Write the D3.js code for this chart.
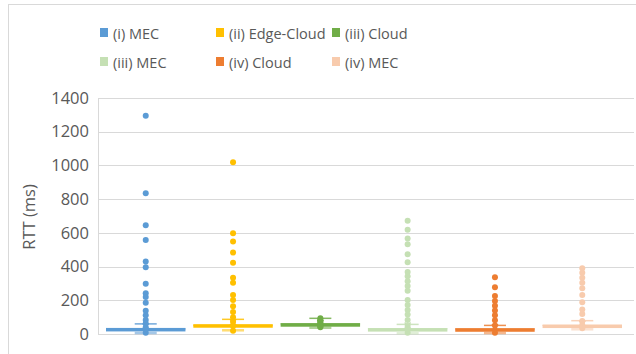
<!DOCTYPE html>
<html><head><meta charset="utf-8">
<script src="https://cdn.jsdelivr.net/npm/d3@7"></script>
<style>html,body{margin:0;padding:0;background:#fff;}svg{display:block;font-family:"Open Sans",sans-serif;}</style>
</head><body>
<script>
const seriesNames = ["(i) MEC","(ii) Edge-Cloud","(iii) Cloud","(iii) MEC","(iv) Cloud","(iv) MEC"];
const seriesColors = ["#5B9BD5","#FFC000","#70AD47","#C5E0B4","#ED7D31","#F8CBAD"];
const yTicks = [0,200,400,600,800,1000,1200,1400];
// box statistics per series
const q1Values     = [26, 44, 56, 27, 26, 47];
const medianValues = [30, 52, 60, 31, 30, 51];
const q3Values     = [36, 58, 64, 35, 34, 56];
const whiskerLow   = [6, 22, 37, 4, 6, 28];
const whiskerHigh  = [60, 87, 93, 57, 51, 79];
const meanValues   = [45, 70, 65, 50, 40, 60];
// individual points (inner points and outliers)
const pointsMEC1   = [1295, 835, 645, 558, 430, 396, 298, 241, 220, 186, 138, 111, 83, 63, 40, 30, 8];
const pointsEdge2  = [1019, 598, 548, 483, 423, 334, 304, 231, 202, 164, 131, 99, 73, 47, 20];
const pointsCloud3 = [93, 85, 75, 68, 60, 52, 45, 40];
const pointsMEC3   = [672, 619, 566, 532, 473, 425, 368, 342, 313, 285, 257, 202, 172, 142, 115, 83, 47, 8];
const pointsCloud4 = [336, 277, 225, 196, 168, 140, 111, 81, 50, 8];
const pointsMEC4   = [390, 364, 334, 304, 271, 231, 188, 146, 119, 77, 53, 34];
const pointSets = [pointsMEC1, pointsEdge2, pointsCloud3, pointsMEC3, pointsCloud4, pointsMEC4];

const W = 636, H = 354;
const svg = d3.select("body").append("svg").attr("width", W).attr("height", H);

// chart border
svg.append("rect").attr("x", 8.5).attr("y", 4.5).attr("width", 640).attr("height", 360)
  .attr("fill", "none").attr("stroke", "#D9D9D9").attr("stroke-width", 1);

const plotLeft = 98, plotRight = 634, plotTop = 98, plotBottom = 334;
const y = d3.scaleLinear().domain([0, 1400]).range([plotBottom, plotTop]);
const x = d3.scaleBand().domain(seriesNames).range([106, 622]).paddingInner(0.09).paddingOuter(0);

// gridlines
svg.append("g").selectAll("line").data(yTicks).join("line")
  .attr("x1", plotLeft).attr("x2", plotRight)
  .attr("y1", d => Math.round(y(d)) + 0.5).attr("y2", d => Math.round(y(d)) + 0.5)
  .attr("stroke", "#D9D9D9").attr("stroke-width", 1);
// left axis line
svg.append("line").attr("x1", plotLeft + 0.5).attr("x2", plotLeft + 0.5)
  .attr("y1", y(1400)).attr("y2", y(0)).attr("stroke", "#D9D9D9");

// y axis labels
const yAxis = d3.axisLeft(y).tickValues(yTicks).tickSize(0).tickPadding(9).tickFormat(d3.format("d"));
const ga = svg.append("g").attr("transform", `translate(${plotLeft},0)`).call(yAxis);
ga.select(".domain").remove();
ga.selectAll("text").attr("fill", "#595959").style("font-size", "16.5px").style("font-family", "'Open Sans',sans-serif");

svg.append("text").attr("transform", `translate(35,217) rotate(-90)`)
  .attr("text-anchor", "middle").attr("fill", "#595959").style("font-size", "16.5px").text("RTT (ms)");

// boxes
seriesNames.forEach((name, i) => {
  const g = svg.append("g");
  const color = seriesColors[i];
  const bx = x(name), bw = x.bandwidth(), cx = bx + bw / 2;
  const capW = 22;
  // whiskers
  g.append("line").attr("x1", cx).attr("x2", cx).attr("y1", y(q3Values[i])).attr("y2", y(whiskerHigh[i]))
    .attr("stroke", color).attr("stroke-width", 1.5);
  g.append("line").attr("x1", cx).attr("x2", cx).attr("y1", y(q1Values[i])).attr("y2", y(whiskerLow[i]))
    .attr("stroke", color).attr("stroke-width", 1.5);
  [whiskerHigh[i], whiskerLow[i]].forEach((v, k) => {
    g.append("line").attr("x1", cx - capW / 2).attr("x2", cx + capW / 2).attr("y1", y(v)).attr("y2", y(v))
      .attr("stroke", color).attr("stroke-width", k === 0 ? 1.5 : 2.5).attr("opacity", k === 0 ? 0.85 : 0.55);
  });
  // box
  g.append("rect").attr("x", bx).attr("width", bw)
    .attr("y", y(q3Values[i])).attr("height", Math.max(3.5, y(q1Values[i]) - y(q3Values[i])))
    .attr("fill", color);
  g.append("line").attr("x1", bx).attr("x2", bx + bw).attr("y1", y(medianValues[i])).attr("y2", y(medianValues[i]))
    .attr("stroke", color).attr("stroke-width", 1);
  // mean marker (x)
  const my = y(meanValues[i]);
  g.append("path").attr("d", `M${cx-3},${my-3}L${cx+3},${my+3}M${cx-3},${my+3}L${cx+3},${my-3}`)
    .attr("stroke", color).attr("stroke-width", 1.5);
  // points
  g.selectAll("circle").data(pointSets[i]).join("circle")
    .attr("cx", cx).attr("cy", d => y(d)).attr("r", 3).attr("fill", color);
});

// legend
const legCols = [100, 216, 332];
const legRows = [33, 62];
const leg = svg.append("g");
seriesNames.forEach((name, i) => {
  const lx = legCols[i % 3], ly = legRows[Math.floor(i / 3)];
  leg.append("rect").attr("x", lx).attr("y", ly - 5).attr("width", 8).attr("height", 9).attr("fill", seriesColors[i]);
  leg.append("text").attr("x", lx + 13).attr("y", ly + 5.5).attr("fill", "#595959")
    .style("font-size", "14.5px").text(name);
});
</script>
</body></html>
